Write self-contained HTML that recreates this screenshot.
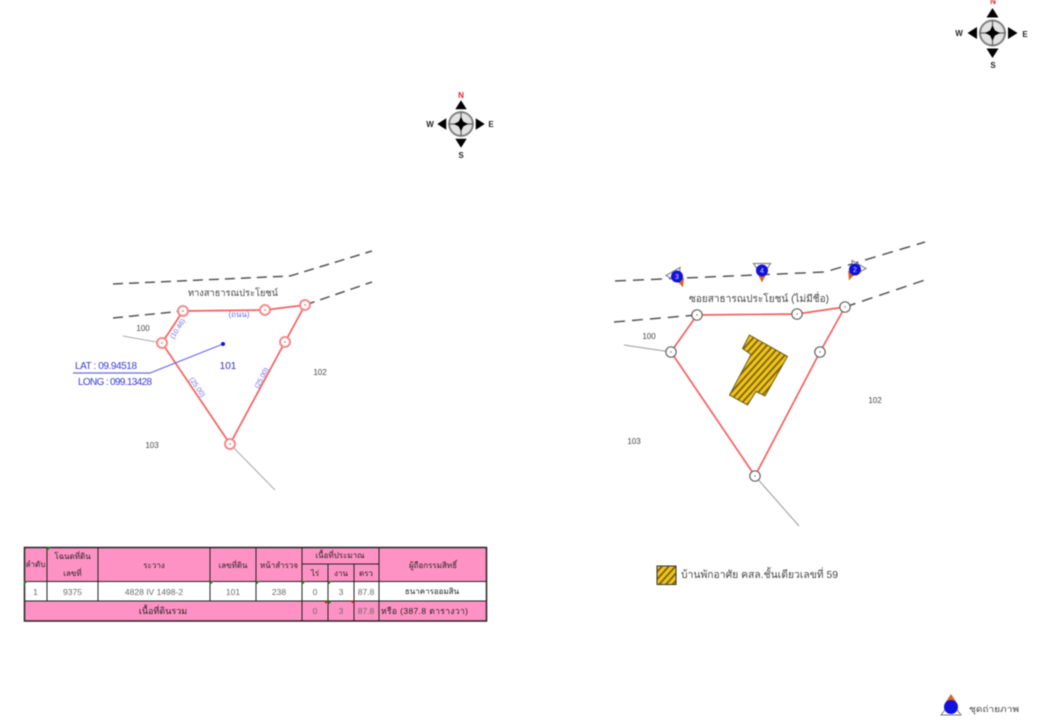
<!DOCTYPE html>
<html>
<head>
<meta charset="utf-8">
<style>
html,body{margin:0;padding:0;background:#fff;width:1040px;height:720px;overflow:hidden}
svg{display:block;filter:blur(0.6px)}
text{font-family:"Liberation Sans","Noto Sans CJK SC",sans-serif}
.th{font-size:8px;fill:#222;text-anchor:middle}
.td{font-size:8.5px;fill:#6a6a6a;text-anchor:middle}
.lb{font-size:8px;fill:#444;text-anchor:middle}
.bl{font-size:7px;fill:#6a6ae8;text-anchor:middle}
.co{font-size:8px;font-weight:bold;text-anchor:middle;fill:#222}
</style>
</head>
<body>
<svg width="1040" height="720" viewBox="0 0 1040 720" xmlns="http://www.w3.org/2000/svg">
<defs>
<pattern id="h" width="5" height="5" patternUnits="userSpaceOnUse" patternTransform="rotate(-48)">
<rect width="5" height="5" fill="#f0c419"/><rect width="5" height="1.8" fill="#7a6210"/>
</pattern>
<g id="compass">
<circle r="12.500" fill="#e2e2e2" stroke="#808080" stroke-width="2"/>
<path d="M-13 0H13M0-13V13" stroke="#666" stroke-width="1.300"/>
<path d="M0-7.500L2.500 -2.500L7.500 0L2.500 2.500L0 7.500L-2.500 2.500L-7.500 0L-2.500 -2.500Z" fill="#000"/>
<path d="M0-25L6-15.500H-6ZM0 25L6 15.500H-6ZM-25 0L-15.500-6V6ZM25 0L15.500-6V6Z" fill="#000"/>
</g>
<g id="n1"><circle r="5" fill="#fff" stroke="#f58080" stroke-width="1.800"/><circle r="0.9" fill="#f07070"/></g>
<g id="n2"><circle r="5.200" fill="#fff" stroke="#666" stroke-width="1.200"/><circle r="0.7" fill="#666"/></g>
</defs>

<!-- compass centre -->
<use href="#compass" transform="translate(461 124) scale(.95)"/>
<text x="461" y="98" class="co" style="fill:#e02030">N</text>
<text x="461" y="158" class="co">S</text>
<text x="430" y="127" class="co">W</text>
<text x="491" y="127" class="co">E</text>

<!-- compass right -->
<use href="#compass" x="992.500" y="33"/>
<text x="993" y="4" class="co" style="fill:#e02030">N</text>
<text x="993" y="68" class="co">S</text>
<text x="959" y="36" class="co">W</text>
<text x="1025" y="37" class="co">E</text>

<!-- left map -->
<g fill="none" stroke="#555" stroke-width="1.500" stroke-dasharray="10 6">
<path d="M113 284L290 276L372 251"/>
<path d="M113 318L183 311"/>
<path d="M305 305L372 282"/>
</g>
<path d="M123 336L162 343M230 444L275 490" stroke="#aaa" stroke-width="1" fill="none"/>
<path d="M162 343L183 311L265 310L305 305L285 342L230 444Z" fill="none" stroke="#f46060" stroke-width="1.700"/>
<path d="M223 344L150 373H73" fill="none" stroke="#6a6ae8" stroke-width="1.200"/>
<circle cx="223" cy="344" r="2" fill="#1010e0"/>
<use href="#n1" x="183" y="311"/><use href="#n1" x="265" y="310"/><use href="#n1" x="305" y="305"/>
<use href="#n1" x="285" y="342"/><use href="#n1" x="162" y="343"/><use href="#n1" x="230" y="444"/>
<text x="233" y="296" text-anchor="middle" font-size="9.500" fill="#444" textLength="90" lengthAdjust="spacingAndGlyphs">ทางสาธารณประโยชน์</text>
<text x="143" y="331" class="lb">100</text>
<text x="320" y="375" class="lb">102</text>
<text x="152" y="448" class="lb">103</text>
<text x="228" y="369" text-anchor="middle" font-size="10" fill="#3030d0">101</text>
<text x="75" y="369" font-size="10" fill="#3a3ad8" textLength="62" lengthAdjust="spacing">LAT : 09.94518</text>
<text x="78" y="385" font-size="10" fill="#3a3ad8" textLength="74" lengthAdjust="spacing">LONG : 099.13428</text>
<text x="239" y="317" class="bl" style="font-size:8px">(ถนน)</text>
<text class="bl" transform="translate(179.500 330) rotate(-57)">(10.46)</text>
<text class="bl" transform="translate(195.500 388.500) rotate(55)">(25.00)</text>
<text class="bl" transform="translate(263.500 379) rotate(-62)">(25.00)</text>

<!-- right map -->
<g fill="none" stroke="#555" stroke-width="1.500" stroke-dasharray="11 7">
<path d="M615 281L825 272L925 242"/>
<path d="M614 322L697 315"/>
<path d="M845 307L925 280"/>
</g>
<path d="M624 345L671 352M755 476L799 526" stroke="#999" stroke-width="1" fill="none"/>
<path d="M671 352L697 315L797 314L845 307L820 352L755 476Z" fill="none" stroke="#f46060" stroke-width="1.700"/>
<use href="#n2" x="697" y="315"/><use href="#n2" x="797" y="314"/><use href="#n2" x="845" y="307"/>
<use href="#n2" x="820" y="352"/><use href="#n2" x="671" y="352"/><use href="#n2" x="755" y="476"/>
<path d="M749.500 335L787.500 356.500L765 396L756 391.500L747.500 405L729.500 395L751 354.500L742.500 348.500Z" fill="url(#h)" stroke="#6b5a1a" stroke-width="1"/>
<text x="759" y="302" text-anchor="middle" font-size="10" fill="#444" textLength="140" lengthAdjust="spacingAndGlyphs">ซอยสาธารณประโยชน์ (ไม่มีชื่อ)</text>
<text x="649" y="339" class="lb">100</text>
<text x="875" y="403" class="lb">102</text>
<text x="634" y="444" class="lb">103</text>

<!-- camera markers -->
<g transform="translate(677 276.500)">
<path d="M-11 -1L3 -9L2 6Z" fill="#fff" stroke="#888" stroke-width="1.200"/>
<path d="M0 4L7 1L6 11Z" fill="#d9641e"/>
<circle r="6" fill="#1212d8"/><text y="2.500" text-anchor="middle" font-size="7" fill="#ddf">3</text>
</g>
<g transform="translate(762 270.500)">
<path d="M-8.500 -7H8.500L0 6Z" fill="#fff" stroke="#888" stroke-width="1.200"/>
<path d="M-4 4H4L0 12Z" fill="#d9641e"/>
<circle r="6" fill="#1212d8"/><text y="2.500" text-anchor="middle" font-size="7" fill="#ddf">4</text>
</g>
<g transform="translate(855 269.500)">
<path d="M11 -1L-3 -9L-2 6Z" fill="#fff" stroke="#888" stroke-width="1.200"/>
<path d="M0 4L-7 1L-6 11Z" fill="#d9641e"/>
<circle r="6" fill="#1212d8"/><text y="2.500" text-anchor="middle" font-size="7" fill="#ddf">2</text>
</g>

<!-- legend -->
<rect x="657" y="566" width="19" height="18.500" fill="url(#h)" stroke="#333" stroke-width="1"/>
<text x="681" y="578" font-size="10.500" fill="#444" textLength="157" lengthAdjust="spacingAndGlyphs">บ้านพักอาศัย คสล.ชั้นเดียวเลขที่ 59</text>

<g>
<path d="M941 715L951 702L961 715Z" fill="#fff" stroke="#777" stroke-width="1"/>
<path d="M951 694L957 703H945Z" fill="#d9641e"/>
<circle cx="951" cy="707" r="7" fill="#1212e0"/>
</g>
<text x="969" y="712" font-size="9" fill="#444" textLength="50" lengthAdjust="spacingAndGlyphs">ชุดถ่ายภาพ</text>

<!-- table -->
<rect x="24.500" y="547.500" width="462" height="73" fill="#ff92c4"/>
<rect x="24.500" y="581.500" width="462" height="19.500" fill="#fff"/>
<g stroke="#222" stroke-width="1" fill="none">
<rect x="24.500" y="547.500" width="462" height="73.500" stroke-width="1.500"/>
<path d="M24 581.500H487M24 601H487" />
<path d="M47 547V601M98 547V601M210 547V601M256 547V601M302 547V621M328 564V621M354 564V621M379 547V621"/>
<path d="M302 564H379"/>
</g>
<g fill="#1a7a1a">
<path d="M47 547h4l-4 4ZM24 581h4l-4 4ZM210 581h4l-4 4ZM256 581h4l-4 4ZM302 581h4l-4 4ZM328 581h4l-4 4ZM328 601h4l-4 4Z"/>
</g>
<path d="M324 601h4l-2 3ZM350 601h4l-0 3Z" fill="#d02020"/>
<text x="35.500" y="567" class="th" font-size="8" textLength="20" lengthAdjust="spacingAndGlyphs">ลำดับ</text>
<text x="72.500" y="559" class="th">โฉนดที่ดิน</text>
<text x="72.500" y="576" class="th">เลขที่</text>
<text x="154" y="568" class="th">ระวาง</text>
<text x="233" y="568" class="th">เลขที่ดิน</text>
<text x="279" y="568" class="th">หน้าสำรวจ</text>
<text x="340" y="558" class="th">เนื้อที่ประมาณ</text>
<text x="315" y="576" class="th">ไร่</text>
<text x="341" y="576" class="th">งาน</text>
<text x="366" y="576" class="th">ตรว</text>
<text x="433" y="568" class="th">ผู้ถือกรรมสิทธิ์</text>
<text x="35.500" y="595" class="td">1</text>
<text x="72.500" y="595" class="td">9375</text>
<text x="154" y="595" class="td">4828 IV 1498-2</text>
<text x="233" y="595" class="td">101</text>
<text x="279" y="595" class="td">238</text>
<text x="315" y="595" class="td">0</text>
<text x="341" y="595" class="td">3</text>
<text x="366" y="595" class="td">87.8</text>
<text x="432" y="594" class="th">ธนาคารออมสิน</text>
<text x="163" y="614" class="th" style="font-size:9px">เนื้อที่ดินรวม</text>
<text x="315" y="614" class="td">0</text>
<text x="341" y="614" class="td">3</text>
<text x="366" y="614" class="td">87.8</text>
<text x="381" y="614" font-size="8.500" fill="#222" textLength="87" lengthAdjust="spacing">หรือ (387.8 ตารางวา)</text>
</svg>
</body>
</html>
